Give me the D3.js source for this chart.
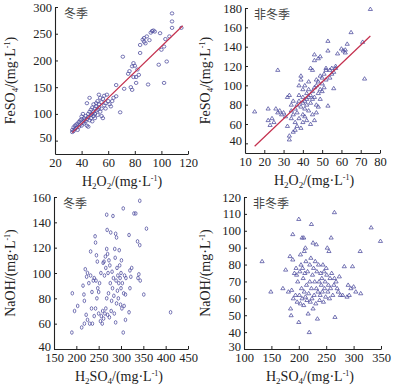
<!DOCTYPE html>
<html>
<head>
<meta charset="utf-8">
<script src="https://cdn.jsdelivr.net/npm/d3@7"></script>
<style>
  body { margin: 0; background: #fff; }
  svg { display: block; }
  .tick text { font-family: "Liberation Serif", "DejaVu Serif", serif; font-size: 12.5px; fill: #222; }
</style>
</head>
<body>
<div id="chart"></div>
<script>
// [H2O2, FeSO4] winter
const winterFe = [[33,66],[33,70],[34,75],[34,68],[35,72],[35,78],[36,80],[36,74],[37,70],[37,82],[38,76],[38,85],[39,80],[39,88],[40,78],[40,90],[40,95],[41,84],[41,100],[42,88],[42,92],[42,82],[43,96],[43,86],[44,90],[44,78],[44,120],[45,100],[45,94],[45,76],[46,88],[46,104],[46,130],[47,98],[47,108],[47,92],[48,100],[48,112],[48,86],[49,104],[49,118],[49,96],[50,110],[50,100],[50,92],[51,106],[51,120],[51,114],[52,98],[52,124],[52,108],[53,136],[53,112],[53,118],[54,104],[54,130],[55,96],[55,110],[55,122],[56,128],[56,92],[57,116],[57,134],[58,110],[58,120],[59,136],[60,124],[61,118],[62,114],[63,124],[64,130],[66,154],[66,133],[69,103],[71,207],[72,147],[75,175],[76,180],[77,150],[78,189],[78,145],[79,195],[79,169],[80,190],[81,169],[81,158],[82,183],[83,173],[84,214],[84,229],[86,239],[87,242],[87,235],[88,232],[89,245],[90,155],[91,238],[92,252],[93,255],[94,256],[95,254],[98,192],[99,251],[100,220],[102,226],[102,158],[103,240],[104,198],[106,245],[108,288],[108,273],[108,261],[115,261]];
// [H2O2, FeSO4] non-winter
const otherFe = [[15,73],[22,64],[22,76],[23,59],[24,66],[25,62],[26,76],[27,116],[27,72],[28,74],[29,70],[30,72],[31,68],[32,58],[32,88],[33,90],[33,44],[33,48],[34,66],[34,74],[34,80],[35,52],[35,70],[35,84],[36,62],[36,76],[36,54],[37,80],[37,72],[37,58],[38,84],[38,66],[38,90],[38,100],[39,78],[39,56],[39,106],[39,110],[40,82],[40,70],[40,88],[40,96],[40,62],[41,76],[41,84],[41,100],[41,68],[42,80],[42,92],[42,64],[42,86],[43,96],[43,74],[43,88],[43,104],[44,90],[44,60],[44,118],[44,82],[45,94],[45,86],[45,70],[45,116],[46,126],[46,132],[46,98],[46,64],[46,88],[47,100],[47,80],[47,106],[47,72],[48,92],[48,104],[48,128],[48,78],[49,96],[49,110],[49,86],[49,130],[50,102],[50,108],[50,94],[51,112],[51,98],[52,116],[52,106],[52,118],[53,146],[53,136],[53,79],[54,108],[54,116],[55,112],[55,118],[56,97],[56,114],[57,120],[57,118],[58,133],[60,138],[61,136],[62,134],[62,137],[63,143],[65,155],[71,145],[72,107],[75,179]];
// [H2SO4, NaOH] winter
const winterNa = [[190,53],[191,84],[196,70],[203,74],[212,57],[215,90],[217,83],[218,78],[218,60],[220,103],[222,67],[223,97],[225,100],[225,63],[228,92],[230,60],[232,117],[232,98],[234,72],[235,85],[236,60],[238,94],[240,96],[240,66],[242,129],[243,124],[243,72],[244,94],[245,114],[246,80],[247,109],[248,88],[250,85],[250,68],[252,92],[254,62],[255,100],[256,66],[258,60],[259,70],[260,108],[261,64],[262,109],[263,98],[264,68],[265,113],[266,104],[266,72],[268,146],[268,119],[268,80],[269,134],[270,115],[270,67],[271,100],[272,84],[273,110],[274,65],[275,106],[276,92],[277,132],[278,70],[279,78],[280,101],[281,88],[282,145],[283,96],[284,82],[285,68],[286,119],[287,112],[288,131],[288,61],[289,94],[290,128],[290,76],[291,104],[292,86],[293,98],[294,80],[295,92],[296,118],[297,106],[298,96],[299,75],[300,100],[300,88],[301,110],[302,72],[303,92],[305,151],[305,53],[306,84],[307,74],[308,98],[310,63],[310,83],[311,96],[318,130],[318,69],[320,88],[320,102],[322,97],[324,104],[329,147],[333,147],[337,125],[338,96],[340,99],[342,157],[342,122],[343,94],[351,83],[357,135],[411,69]];
// [H2SO4, NaOH] non-winter
const otherNa = [[133,82],[149,64],[171,66],[176,77],[181,64],[184,85],[185,54],[186,50],[187,65],[189,98],[189,83],[190,60],[192,75],[194,62],[195,78],[196,74],[197,58],[198,70],[200,107],[200,46],[201,62],[202,76],[203,86],[203,57],[204,80],[205,66],[206,96],[206,60],[207,78],[208,72],[209,96],[209,56],[210,88],[210,64],[211,75],[212,90],[212,61],[213,82],[214,68],[215,59],[216,76],[217,51],[218,63],[219,40],[220,80],[220,70],[221,58],[222,84],[223,104],[223,66],[224,60],[225,74],[226,93],[226,54],[227,78],[228,62],[229,70],[230,82],[231,57],[232,92],[232,66],[233,76],[234,48],[235,64],[236,80],[237,70],[238,59],[239,62],[240,75],[241,68],[242,72],[243,64],[244,80],[245,58],[246,76],[247,66],[248,70],[249,61],[250,78],[251,74],[252,90],[253,64],[254,68],[255,88],[256,60],[257,72],[258,66],[259,96],[260,75],[262,62],[264,68],[265,111],[265,72],[266,49],[268,70],[270,66],[272,64],[274,73],[276,62],[280,62],[283,79],[288,61],[290,68],[292,62],[295,66],[298,79],[300,67],[304,64],[312,88],[313,63],[332,102],[349,94]];

// fitted lines (end points)
const winterFit = [[33,65],[116,265]];
const otherFit = [[15,37],[75,151]];

// ticks
const ticksFeY = [50,100,150,200,250,300];
const ticksH2O2X = [20,40,60,80,100,120];
const ticksFeY2 = [40,60,80,100,120,140,160,180];
const ticksH2O2X2 = [10,20,30,40,50,60,70,80];
const ticksNaY = [40,60,80,100,120,140,160];
const ticksSO4X = [150,200,250,300,350,400,450];
const ticksNaY2 = [30,40,50,60,70,80,90,100,110,120];
const ticksSO4X2 = [100,150,200,250,300,350];

const markColor = "#4b4a9c";
const fitColor = "#c4304e";

const svg = d3.select("#chart").append("svg")
    .attr("width", 406)
    .attr("height", 390);

const circleMark = "M-1.8,0a1.8,1.6 0 1,0 3.6,0a1.8,1.6 0 1,0 -3.6,0Z";
const ovalMark = "M-1.3,0a1.3,1.8 0 1,0 2.6,0a1.3,1.8 0 1,0 -2.6,0Z";
const triMark = "M0,-1.9L2.1,1.5L-2.1,1.5Z";

// one scatter panel
function drawPanel(p) {
    const x = d3.scaleLinear().domain(p.xDom).range(p.xRange);
    const y = d3.scaleLinear().domain(p.yDom).range(p.yRange);
    const g = svg.append("g");

    g.append("g")
        .attr("transform", `translate(0,${p.yRange[0]})`)
        .call(d3.axisBottom(x).tickValues(p.xTicks).tickSizeInner(-3).tickSizeOuter(0).tickPadding(4));
    g.append("g")
        .attr("transform", `translate(${p.xRange[0]},0)`)
        .call(d3.axisLeft(y).tickValues(p.yTicks).tickSizeInner(-3).tickSizeOuter(0).tickPadding(3))
        .selectAll(".tick text")
        .attr("dy", (d, i) => i === 0 ? "0.1em" : "0.32em");
    g.selectAll(".domain").attr("stroke", "#222").attr("stroke-width", 1.1);
    g.selectAll(".tick line").attr("stroke", "#222");

    g.append("g").selectAll("path")
        .data(p.data)
        .join("path")
        .attr("d", p.mark)
        .attr("transform", d => `translate(${x(d[0])},${y(d[1])})`)
        .attr("fill", "none")
        .attr("stroke", markColor)
        .attr("stroke-width", 0.75);

    if (p.fit) {
        g.append("path")
            .datum(p.fit)
            .attr("d", d3.line().x(d => x(d[0])).y(d => y(d[1])))
            .attr("stroke", fitColor)
            .attr("stroke-width", 1.2)
            .attr("fill", "none");
    }

    // season label
    g.append("text")
        .attr("x", p.xRange[0] + 9)
        .attr("y", p.yRange[1] + 11)
        .attr("font-family", "'Noto Sans CJK SC', sans-serif")
        .attr("font-size", 12)
        .attr("fill", "#444")
        .text(p.season);

    // x title
    const xt = g.append("text")
        .attr("x", p.xTitleX)
        .attr("y", p.yRange[0] + 32)
        .attr("text-anchor", "middle")
        .attr("font-family", "'Liberation Serif', serif")
        .attr("font-size", 14)
        .attr("fill", "#222");
    addTitle(xt, p.xName);

    // y title
    const yt = g.append("text")
        .attr("transform", `translate(${p.yTitleX},${(p.yRange[0] + p.yRange[1]) / 2}) rotate(-90)`)
        .attr("text-anchor", "middle")
        .attr("font-family", "'Liberation Serif', serif")
        .attr("font-size", 14)
        .attr("fill", "#222");
    addTitle(yt, p.yName);
}

// name parts: [text, sub?]
function addTitle(t, parts) {
    parts.forEach(pt => {
        const s = t.append("tspan").text(pt[0]);
        if (pt[1] === "sub") s.attr("font-size", 9).attr("dy", 3);
        if (pt[1] === "back") s.attr("dy", -3);
        if (pt[1] === "sup") s.attr("font-size", 8).attr("dy", -5);
        if (pt[1] === "supback") s.attr("dy", 5);
    });
}

const h2o2Name = [["H"],["2","sub"],["O","back"],["2","sub"],["/(mg·L","back"],["-1","sup"],[")","supback"]];
const feName = [["FeSO"],["4","sub"],["/(mg·L","back"],["-1","sup"],[")","supback"]];
const so4Name = [["H"],["2","sub"],["SO","back"],["4","sub"],["/(mg·L","back"],["-1","sup"],[")","supback"]];
const naName = [["NaOH/(mg·L"],["-1","sup"],[")","supback"]];

drawPanel({data: winterFe, mark: circleMark, fit: winterFit, season: "冬季",
    xDom: [20,120], xRange: [55,188], yDom: [25,300], yRange: [154,7],
    xTicks: ticksH2O2X, yTicks: ticksFeY, xName: h2o2Name, yName: feName, xTitleX: 122, yTitleX: 15});
drawPanel({data: otherFe, mark: triMark, fit: otherFit, season: "非冬季",
    xDom: [10,80], xRange: [245,380], yDom: [30,180], yRange: [153,8],
    xTicks: ticksH2O2X2, yTicks: ticksFeY2, xName: h2o2Name, yName: feName, xTitleX: 314, yTitleX: 210});
drawPanel({data: winterNa, mark: ovalMark, season: "冬季",
    xDom: [150,450], xRange: [54,188], yDom: [40,160], yRange: [349,197],
    xTicks: ticksSO4X, yTicks: ticksNaY, xName: so4Name, yName: naName, xTitleX: 119, yTitleX: 15});
drawPanel({data: otherNa, mark: triMark, season: "非冬季",
    xDom: [100,350], xRange: [244,381], yDom: [30,120], yRange: [349,197],
    xTicks: ticksSO4X2, yTicks: ticksNaY2, xName: so4Name, yName: naName, xTitleX: 310, yTitleX: 210});
</script>
</body>
</html>
